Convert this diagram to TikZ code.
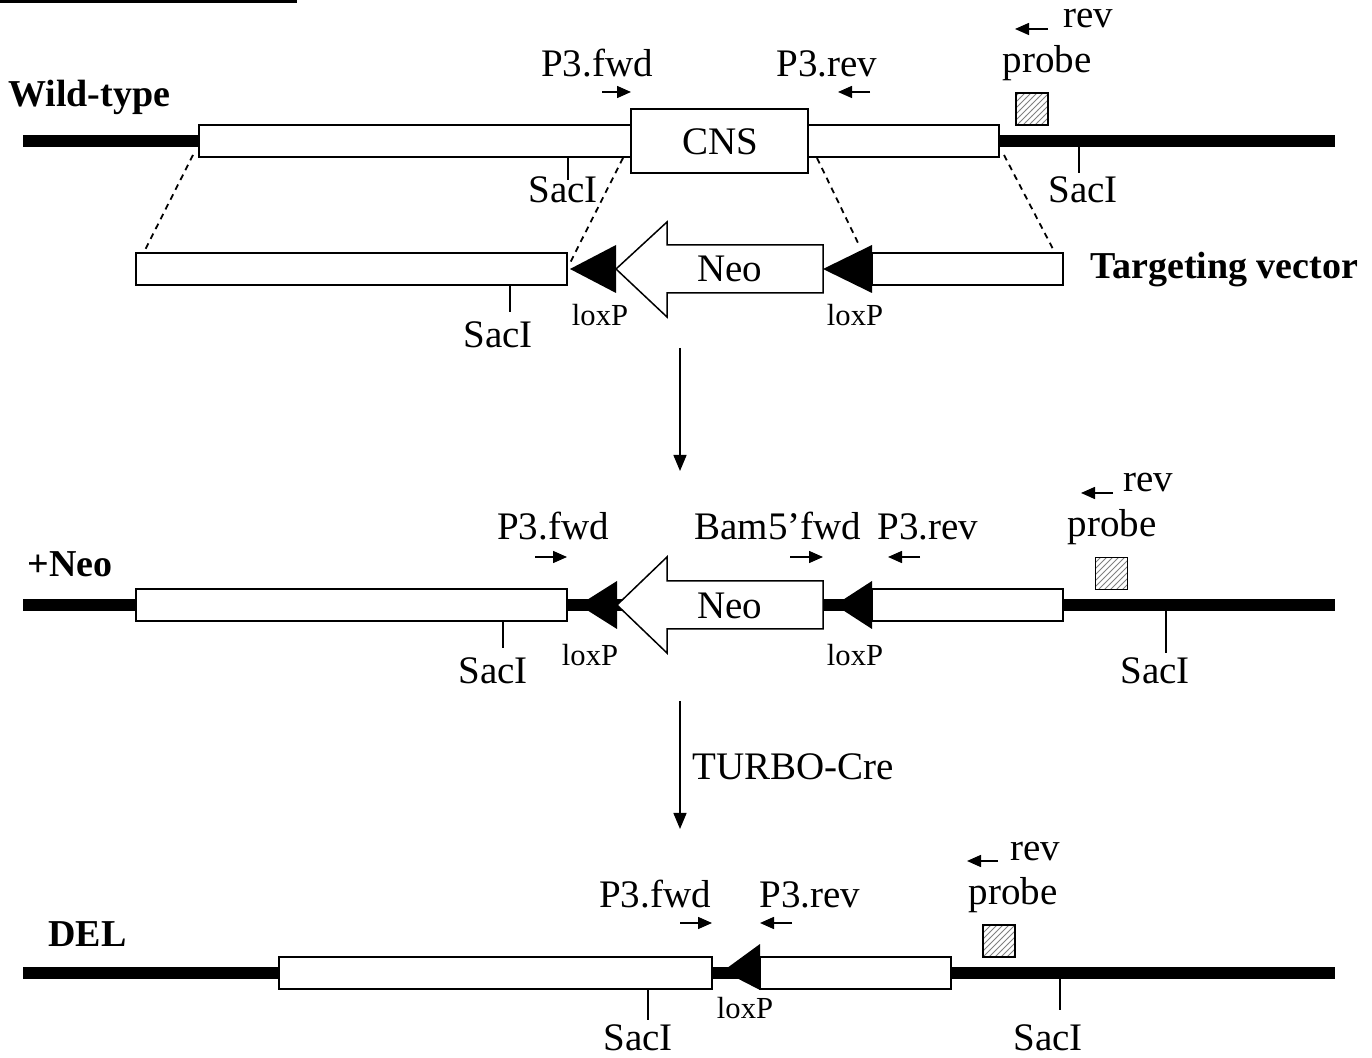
\documentclass[tikz,border=0pt]{standalone}
\usepackage{fontspec}
\setmainfont{Liberation Serif}
\usetikzlibrary{arrows.meta,patterns}
\begin{document}
\begin{tikzpicture}[x=0.5pt,y=-0.5pt,
 lbl/.style={font=\fontsize{19.5}{21}\selectfont, inner sep=0pt, anchor=base},
 blbl/.style={font=\fontsize{19}{21}\selectfont\bfseries, inner sep=0pt, anchor=base west},
 lox/.style={font=\fontsize{15.3}{17}\selectfont, inner sep=0pt, anchor=base},
 dna/.style={line width=6pt},
 seg/.style={draw, fill=white, line width=0.75pt, minimum height=16pt, inner sep=0pt},
 tickl/.style={line width=0.75pt},
 sarr/.style={line width=0.75pt, -{Triangle[length=7pt,width=6pt]}},
 barr/.style={line width=0.75pt, -{Triangle[length=8pt,width=6.5pt]}},
 hatch/.style={draw, line width=0.75pt, pattern=north east lines, pattern color=gray, minimum size=16pt, inner sep=0pt},
 loxtri/.style={fill=black},
 neo/.style={draw, fill=white, line width=0.75pt},
 dsh/.style={dash pattern=on 3pt off 2.5pt, line width=0.9pt}
]
\useasboundingbox (0,0) rectangle (1372,1058);
\fill (0,0) rectangle (297,3);

% ---------------- Wild-type ----------------
\node[blbl] (wtlab) at (8,107) {Wild-type};
\coordinate (w0) at (23,141);
\coordinate (w1) at (1335,141);
\draw[dna] (w0) -- (w1);
\node[seg, minimum width=216pt] (wl) at (415,141) {};
\node[seg, minimum width=95.5pt] (wr) at (903.5,141) {};
\node[seg, minimum width=88.5pt, minimum height=32pt] (cns) at (719.5,141) {};
\node[lbl] (cnslab) at (720,155) {CNS};
% primers
\node[lbl] (wpf) at (597,77) {P3.fwd};
\coordinate (wpfa) at (602,92); \coordinate (wpfb) at (631,92);
\draw[sarr] (wpfa) -- (wpfb);
\node[lbl] (wpr) at (827,77) {P3.rev};
\coordinate (wpra) at (870,92); \coordinate (wprb) at (838,92);
\draw[sarr] (wpra) -- (wprb);
\node[lbl, text height=9pt] (wrev) at (1088,28) {rev};
\coordinate (wreva) at (1048,29); \coordinate (wrevb) at (1015,29);
\draw[sarr] (wreva) -- (wrevb);
\node[lbl] (wprobe) at (1047,73) {probe};
\node[hatch] (wh) at (1032,109) {};
% SacI
\coordinate (ws1a) at (568,157); \coordinate (ws1b) at (568,180);
\draw[tickl] (ws1a) -- (ws1b);
\node[lbl] (ws1) at (563,203) {SacI};
\coordinate (ws2a) at (1079,147); \coordinate (ws2b) at (1079,173);
\draw[tickl] (ws2a) -- (ws2b);
\node[lbl] (ws2) at (1083,203) {SacI};

% ---------------- Targeting vector ----------------
\node[blbl] (tvlab) at (1090,279) {Targeting vector};
\node[seg, minimum width=215.5pt] (tl) at (351.5,269) {};
\node[seg, minimum width=95.5pt] (tr) at (967.5,269) {};
\draw[neo] (616,269) -- (667,222) -- (667,245) -- (823,245) -- (823,293) -- (667,293) -- (667,317) -- cycle;
\node[lbl] (tneo) at (730,282) {Neo};
\fill[loxtri] (570,269) -- (616,245) -- (616,293) -- cycle;
\fill[loxtri] (823,269) -- (872,245) -- (872,293) -- cycle;
\node[lox] (tlx1) at (600,326) {loxP};
\node[lox] (tlx2) at (855,326) {loxP};
\coordinate (tsa) at (510,285); \coordinate (tsb) at (510,312);
\draw[tickl] (tsa) -- (tsb);
\node[lbl] (ts) at (498,348) {SacI};
% dashed homology lines
\coordinate (d1a) at (193,155); \coordinate (d1b) at (144,252);
\coordinate (d2a) at (623,158); \coordinate (d2b) at (570,263);
\coordinate (d3a) at (817,158); \coordinate (d3b) at (860,247);
\coordinate (d4a) at (1004,155); \coordinate (d4b) at (1053,249);
\draw[dsh] (d1a) -- (d1b);
\draw[dsh] (d2a) -- (d2b);
\draw[dsh] (d3a) -- (d3b);
\draw[dsh] (d4a) -- (d4b);

% arrow 1
\coordinate (a1s) at (680,348); \coordinate (a1e) at (680,471);
\draw[barr] (a1s) -- (a1e);

% ---------------- +Neo ----------------
\node[blbl] (nlab) at (27,577) {+Neo};
\coordinate (n0) at (23,605); \coordinate (n1) at (1335,605);
\draw[dna] (n0) -- (n1);
\node[seg, minimum width=215.5pt] (nl) at (351.5,605) {};
\node[seg, minimum width=95.5pt] (nr) at (967.5,605) {};
\draw[neo] (617,605) -- (667,557) -- (667,581) -- (823,581) -- (823,629) -- (667,629) -- (667,653) -- cycle;
\node[lbl] (nneo) at (730,619) {Neo};
\fill[loxtri] (579,605) -- (617,581) -- (617,629) -- cycle;
\fill[loxtri] (835,605) -- (872,581) -- (872,629) -- cycle;
\node[lox] (nlx1) at (590,666) {loxP};
\node[lox] (nlx2) at (855,666) {loxP};
\node[lbl] (npf) at (553,540) {P3.fwd};
\coordinate (npfa) at (535,557); \coordinate (npfb) at (567,557);
\draw[sarr] (npfa) -- (npfb);
\node[lbl] (nbam) at (778,540) {Bam5’fwd};
\coordinate (nbama) at (790,557); \coordinate (nbamb) at (823,557);
\draw[sarr] (nbama) -- (nbamb);
\node[lbl] (npr) at (928,540) {P3.rev};
\coordinate (npra) at (920,557); \coordinate (nprb) at (888,557);
\draw[sarr] (npra) -- (nprb);
\node[lbl] (nrev) at (1148,492) {rev};
\coordinate (nreva) at (1113,493); \coordinate (nrevb) at (1081,493);
\draw[sarr] (nreva) -- (nrevb);
\node[lbl] (nprobe) at (1112,537) {probe};
\node[hatch] (nh) at (1111.5,573.5) {};
\coordinate (ns1a) at (503,621); \coordinate (ns1b) at (503,648);
\draw[tickl] (ns1a) -- (ns1b);
\node[lbl] (ns1) at (493,684) {SacI};
\coordinate (ns2a) at (1166,611); \coordinate (ns2b) at (1166,653);
\draw[tickl] (ns2a) -- (ns2b);
\node[lbl] (ns2) at (1155,684) {SacI};

% arrow 2
\coordinate (a2s) at (680,701); \coordinate (a2e) at (680,829);
\draw[barr] (a2s) -- (a2e);
\node[lbl, anchor=base west] (cre) at (692,780) {TURBO-Cre};

% ---------------- DEL ----------------
\node[blbl] (dlab) at (48,947) {DEL};
\coordinate (e0) at (23,973); \coordinate (e1) at (1335,973);
\draw[dna] (e0) -- (e1);
\node[seg, minimum width=216.5pt] (dl) at (495.5,973) {};
\node[seg, minimum width=95.5pt] (dr) at (855.5,973) {};
\fill[loxtri] (723,971) -- (760,944) -- (760,990) -- cycle;
\node[lox] (dlx) at (745,1018) {loxP};
\node[lbl] (dpf) at (655,907) {P3.fwd};
\coordinate (dpfa) at (680,923); \coordinate (dpfb) at (712,923);
\draw[sarr] (dpfa) -- (dpfb);
\node[lbl] (dpr) at (810,907) {P3.rev};
\coordinate (dpra) at (792,923); \coordinate (dprb) at (760,923);
\draw[sarr] (dpra) -- (dprb);
\node[lbl] (drev) at (1035,861) {rev};
\coordinate (dreva) at (998,861); \coordinate (drevb) at (967,861);
\draw[sarr] (dreva) -- (drevb);
\node[lbl] (dprobe) at (1013,905) {probe};
\node[hatch] (dh) at (999,941) {};
\coordinate (ds1a) at (648,989); \coordinate (ds1b) at (648,1020);
\draw[tickl] (ds1a) -- (ds1b);
\node[lbl] (ds1) at (638,1050) {SacI};
\coordinate (ds2a) at (1060,979); \coordinate (ds2b) at (1060,1010);
\draw[tickl] (ds2a) -- (ds2b);
\node[lbl] (ds2) at (1048,1050) {SacI};
\end{tikzpicture}
\end{document}
